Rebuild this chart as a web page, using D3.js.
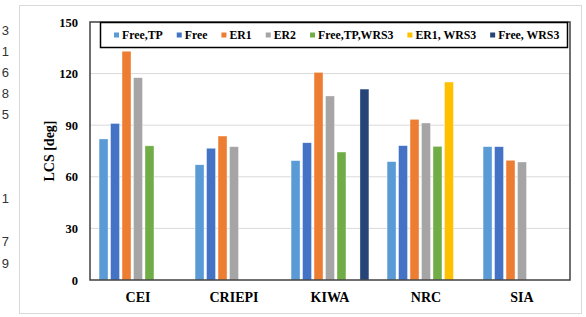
<!DOCTYPE html>
<html>
<head>
<meta charset="utf-8">
<script src="https://cdn.jsdelivr.net/npm/d3@7"></script>
<style>
  body { margin: 0; background: #fff; }
  svg { display: block; }
</style>
</head>
<body>
<svg id="chart" width="586" height="317"></svg>
<script>
// data
const categories = ['CEI', 'CRIEPI', 'KIWA', 'NRC', 'SIA'];
const seriesNames = ['Free,TP', 'Free', 'ER1', 'ER2', 'Free,TP,WRS3', 'ER1, WRS3', 'Free, WRS3'];
const seriesColors = ['#5B9BD5', '#4472C4', '#ED7D31', '#A5A5A5', '#70AD47', '#FFC000', '#264478'];

const freeTP = [82, 67, 69.4, 68.8, 77.5];
const free = [91, 76.6, 79.8, 78.1, 77.5];
const er1 = [133, 83.7, 120.7, 93.4, 69.6];
const er2 = [117.6, 77.5, 107, 91.3, 68.6];
const freeTPWRS3 = [78, null, 74.4, 77.7, null];
const er1WRS3 = [null, null, null, 115.1, null];
const freeWRS3 = [null, null, 111, null, null];

const yTicks = [0, 30, 60, 90, 120, 150];

// digits of a neighbouring table, cut off at the left edge
const sideDigits = ['3', '1', '6', '8', '5', '1', '7', '9'];
const sideDigitY = [30, 51, 72, 93, 114, 198, 241, 263];

const seriesValues = [freeTP, free, er1, er2, freeTPWRS3, er1WRS3, freeWRS3];

const svg = d3.select('#chart');
const margin = { top: 22, right: 16, bottom: 37, left: 90 };
const width = 586 - margin.left - margin.right;
const height = 317 - margin.top - margin.bottom;
const serif = '"Liberation Serif", "Times New Roman", serif';

// outer chart border
svg.append('rect')
  .attr('x', 19.5).attr('y', 5.5)
  .attr('width', 562).attr('height', 308)
  .attr('fill', 'none')
  .attr('stroke', '#d9d9d9');

svg.append('g')
  .selectAll('text')
  .data(sideDigits)
  .enter()
  .append('text')
  .attr('x', 9)
  .attr('y', (d, i) => sideDigitY[i])
  .attr('dy', '0.35em')
  .attr('text-anchor', 'end')
  .style('font-family', '"Liberation Sans", Arial, sans-serif')
  .style('font-size', '13px')
  .style('fill', '#333')
  .text(d => d);

const g = svg.append('g').attr('transform', `translate(${margin.left},${margin.top})`);

const x0 = d3.scaleBand().domain(categories).range([0, width]);
const x1 = d3.scaleBand().domain(seriesNames).range([0, x0.bandwidth()])
  .paddingInner(0.22).paddingOuter(0.79);
const y = d3.scaleLinear().domain([0, 150]).range([height, 0]);

// gridlines
g.append('g')
  .selectAll('line')
  .data(yTicks.filter(t => t > 0 && t < 150))
  .enter()
  .append('line')
  .attr('x1', 0).attr('x2', width)
  .attr('y1', d => y(d)).attr('y2', d => y(d))
  .attr('stroke', '#d9d9d9')
  .attr('stroke-width', 1);

// bars
const rows = [];
categories.forEach((c, ci) => {
  seriesNames.forEach((s, si) => {
    const v = seriesValues[si][ci];
    if (v != null) rows.push({ cat: c, series: s, value: v, color: seriesColors[si] });
  });
});

g.selectAll('.bar')
  .data(rows)
  .enter()
  .append('rect')
  .attr('class', 'bar')
  .attr('x', d => x0(d.cat) + x1(d.series))
  .attr('y', d => y(d.value))
  .attr('width', x1.bandwidth())
  .attr('height', d => height - y(d.value))
  .attr('fill', d => d.color)
  .attr('stroke', '#ffffff')
  .attr('stroke-opacity', 0.6)
  .attr('stroke-width', 0.6);

// plot frame
g.append('rect')
  .attr('x', 0).attr('y', 0)
  .attr('width', width).attr('height', height)
  .attr('fill', 'none')
  .attr('stroke', '#404040')
  .attr('stroke-width', 1.5);

// y axis labels
const yAxis = g.append('g')
  .call(d3.axisLeft(y).tickValues(yTicks).tickSize(0).tickPadding(12));
yAxis.select('.domain').remove();
yAxis.selectAll('text')
  .style('font-family', serif)
  .style('font-size', '12.5px')
  .style('font-weight', 'bold')
  .style('fill', '#000');

// x axis labels
const xAxis = g.append('g')
  .attr('transform', `translate(0,${height})`)
  .call(d3.axisBottom(x0).tickSize(0).tickPadding(12));
xAxis.select('.domain').remove();
xAxis.selectAll('text')
  .style('font-family', serif)
  .style('font-size', '14px')
  .style('font-weight', 'bold')
  .style('fill', '#000');

// axis title
svg.append('text')
  .attr('transform', `translate(49,${margin.top + height / 2}) rotate(-90)`)
  .attr('text-anchor', 'middle')
  .attr('dy', '0.35em')
  .style('font-family', serif)
  .style('font-size', '14px')
  .style('font-weight', 'bold')
  .text('LCS [deg]');

// legend
const legend = svg.append('g');
legend.append('rect')
  .attr('x', 100.5).attr('y', 22.5)
  .attr('width', 467).attr('height', 25)
  .attr('fill', '#fff')
  .attr('stroke', '#000')
  .attr('stroke-width', 1.5);

let lx = 114;
seriesNames.forEach((s, i) => {
  const item = legend.append('g').attr('transform', `translate(${lx},35)`);
  item.append('rect')
    .attr('x', 0).attr('y', -2.5)
    .attr('width', 5).attr('height', 5)
    .attr('fill', seriesColors[i]);
  const t = item.append('text')
    .attr('x', 8)
    .attr('dy', '0.35em')
    .style('font-family', serif)
    .style('font-size', '11.8px')
    .style('font-weight', 'bold')
    .text(s);
  lx += 8 + t.node().getComputedTextLength() + 14;
});
</script>
</body>
</html>
